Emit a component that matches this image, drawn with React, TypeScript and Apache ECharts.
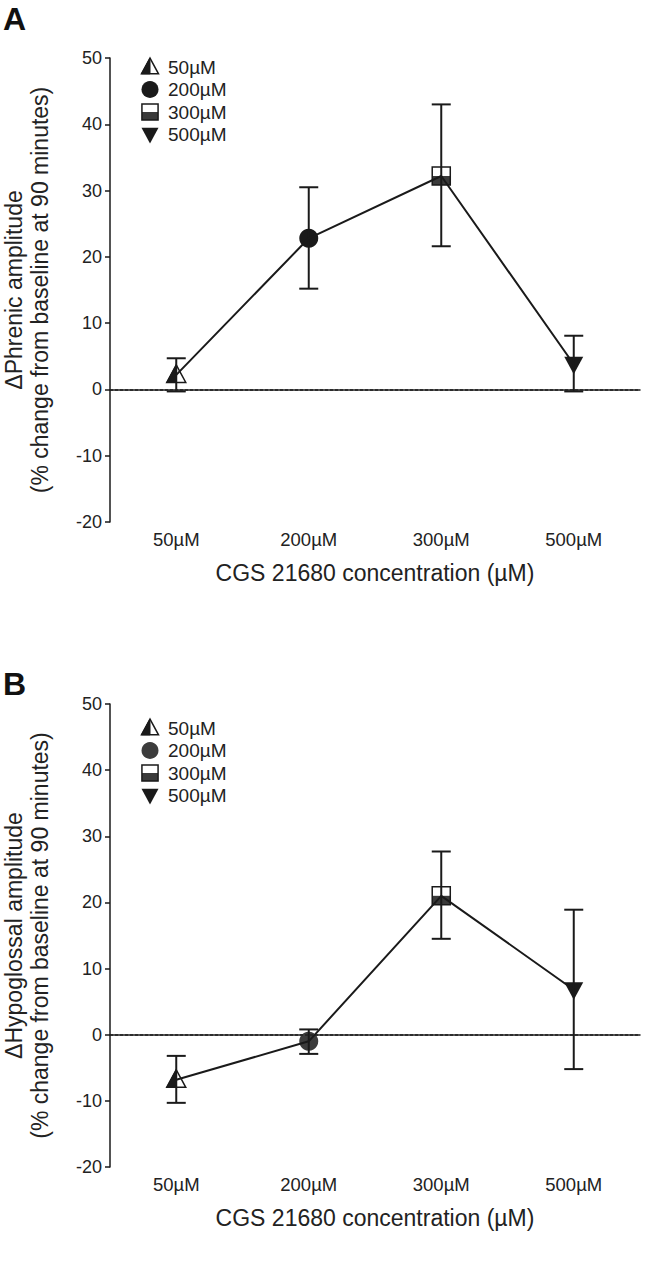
import React, { useEffect, useRef } from "react";
import * as echarts from "echarts";

const categories = ["50µM", "200µM", "300µM", "500µM"];
const markerKinds = ["triUp", "circle", "square", "triDown"];

const phrenicMean = [2.2, 22.8, 32.2, 3.8];
const phrenicLow = [-0.3, 15.2, 21.6, -0.3];
const phrenicHigh = [4.7, 30.5, 43.0, 8.1];

const hypoMean = [-6.8, -1.0, 21.0, 6.8];
const hypoLow = [-10.3, -2.9, 14.5, -5.2];
const hypoHigh = [-3.2, 0.8, 27.7, 18.9];

const yMin = -20;
const yMax = 50;
const yInterval = 10;

const FONT = "'Liberation Sans', Arial, Helvetica, sans-serif";
const INK = "#1a1a1a";

function markerShapes(kind: string, cx: number, cy: number, s: number, circleColor: string) {
  const stroke = { stroke: INK, lineWidth: 1.5 };
  if (kind === "triUp") {
    const top = cy - s * 1.05;
    const bot = cy + s * 0.8;
    return [
      { type: "polygon", shape: { points: [[cx, top], [cx - s, bot], [cx + s, bot]] }, style: { fill: "#fff", ...stroke } },
      { type: "polygon", shape: { points: [[cx, top], [cx - s, bot], [cx, bot]] }, style: { fill: INK, stroke: INK, lineWidth: 1 } },
    ];
  }
  if (kind === "circle") {
    return [{ type: "circle", shape: { cx, cy, r: s }, style: { fill: circleColor } }];
  }
  if (kind === "square") {
    const h = s * 0.95;
    return [
      { type: "rect", shape: { x: cx - h, y: cy - h, width: 2 * h, height: h }, style: { fill: "#fff" } },
      { type: "rect", shape: { x: cx - h, y: cy, width: 2 * h, height: h }, style: { fill: "#3a3a3a" } },
      { type: "rect", shape: { x: cx - h, y: cy - h, width: 2 * h, height: 2 * h }, style: { fill: "none", ...stroke } },
    ];
  }
  const top = cy - s * 0.8;
  const bot = cy + s * 1.05;
  return [{ type: "polygon", shape: { points: [[cx - s, top], [cx + s, top], [cx, bot]] }, style: { fill: INK } }];
}

function legendGraphic(x: number, y0: number, circleColor: string) {
  const children: any[] = [];
  categories.forEach((c, i) => {
    const cy = y0 + i * 22.5;
    markerShapes(markerKinds[i], x, cy, 8.5, circleColor).forEach((e) => children.push(e));
    children.push({
      type: "text",
      x: x + 18,
      y: cy,
      style: { text: c, fontSize: 19, fontFamily: FONT, fill: "#222", verticalAlign: "middle" },
    });
  });
  return { type: "group", children };
}

function panelSeries(idx: number, mean: number[], low: number[], high: number[], circleColor: string) {
  const data = categories.map((_, i) => [i, mean[i], low[i], high[i]]);
  return [
    {
      type: "custom",
      xAxisIndex: idx,
      yAxisIndex: idx,
      z: 2,
      data,
      encode: { x: 0, y: 1 },
      renderItem: (params: any, api: any) => {
        const i = api.value(0);
        const p = api.coord([i, api.value(1)]);
        return { type: "group", children: markerShapes(markerKinds[params.dataIndex], p[0], p[1], 9.5, circleColor) };
      },
    },
    {
      type: "custom",
      xAxisIndex: idx,
      yAxisIndex: idx,
      z: 4,
      data,
      encode: { x: 0, y: [2, 3] },
      renderItem: (params: any, api: any) => {
        const i = api.value(0);
        const lo = api.coord([i, api.value(2)]);
        const hi = api.coord([i, api.value(3)]);
        const w = 9.5;
        const st = { stroke: INK, lineWidth: 2 };
        return {
          type: "group",
          children: [
            { type: "line", shape: { x1: lo[0], y1: lo[1], x2: hi[0], y2: hi[1] }, style: st },
            { type: "line", shape: { x1: lo[0] - w, y1: lo[1], x2: lo[0] + w, y2: lo[1] }, style: st },
            { type: "line", shape: { x1: hi[0] - w, y1: hi[1], x2: hi[0] + w, y2: hi[1] }, style: st },
          ],
        };
      },
    },
    {
      type: "line",
      xAxisIndex: idx,
      yAxisIndex: idx,
      z: 5,
      data: mean,
      symbol: "none",
      lineStyle: { color: INK, width: 2 },
      markLine: {
        silent: true,
        symbol: ["none", "none"],
        label: { show: false },
        lineStyle: { color: "#222", width: 1.5, type: [3, 2] },
        data: [{ yAxis: 0 }],
      },
    },
  ];
}

function xAxis(idx: number) {
  return {
    type: "category",
    gridIndex: idx,
    data: categories,
    boundaryGap: true,
    axisLine: { lineStyle: { color: INK, width: 1.5 } },
    axisTick: { alignWithLabel: true, length: 5, lineStyle: { color: INK, width: 1.5 } },
    axisLabel: { color: "#222", fontSize: 18.5, fontFamily: FONT, margin: 8 },
    name: "CGS 21680 concentration (µM)",
    nameLocation: "middle",
    nameGap: 39,
    nameTextStyle: { color: "#222", fontSize: 23, fontFamily: FONT },
  };
}

function yAxis(idx: number, title: string) {
  return {
    type: "value",
    gridIndex: idx,
    min: yMin,
    max: yMax,
    interval: yInterval,
    splitLine: { show: false },
    axisLine: { show: true, lineStyle: { color: INK, width: 1.5 } },
    axisTick: { show: true, length: 5, lineStyle: { color: INK, width: 1.5 } },
    axisLabel: { color: "#222", fontSize: 18, fontFamily: FONT, margin: 8 },
    name: title,
    nameLocation: "middle",
    nameGap: 57,
    nameTextStyle: { color: "#222", fontSize: 23, fontFamily: FONT, lineHeight: 26 },
  };
}

export default function App() {
  const ref = useRef<HTMLDivElement>(null);
  useEffect(() => {
    document.body.style.margin = "0";
    const chart = echarts.init(ref.current!, null, { renderer: "svg" });
    chart.setOption({
      animation: false,
      backgroundColor: "#fff",
      grid: [
        { left: 110, right: 16, top: 58, height: 464, containLabel: false, outerBoundsMode: "none" },
        { left: 110, right: 16, top: 704, height: 463, containLabel: false, outerBoundsMode: "none" },
      ],
      xAxis: [xAxis(0), xAxis(1)],
      yAxis: [
        yAxis(0, "ΔPhrenic amplitude\n(% change from baseline at 90 minutes)"),
        yAxis(1, "ΔHypoglossal amplitude\n(% change from baseline at 90 minutes)"),
      ],
      series: [
        ...panelSeries(0, phrenicMean, phrenicLow, phrenicHigh, INK),
        ...panelSeries(1, hypoMean, hypoLow, hypoHigh, "#3c3c3c"),
      ],
      graphic: [
        { type: "text", left: 3, top: 3, style: { text: "A", fontSize: 32, fontWeight: "bold", fontFamily: FONT, fill: "#111" } },
        { type: "text", left: 3, top: 668, style: { text: "B", fontSize: 32, fontWeight: "bold", fontFamily: FONT, fill: "#111" } },
        legendGraphic(150, 67, INK),
        legendGraphic(150, 728, "#3c3c3c"),
      ],
    });
    return () => chart.dispose();
  }, []);
  return <div ref={ref} style={{ width: 656, height: 1267 }} />;
}
